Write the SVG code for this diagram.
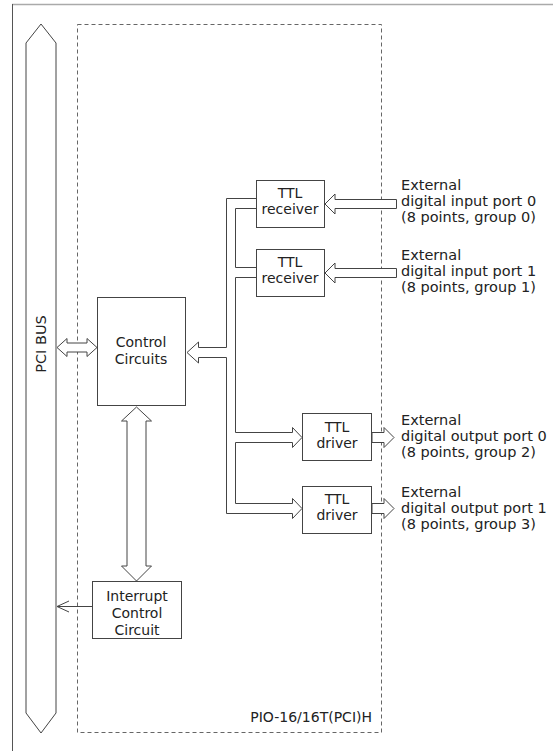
<svg xmlns="http://www.w3.org/2000/svg" width="553" height="751" viewBox="0 0 553 751">
<style>
text{font-family:"DejaVu Sans","Verdana",sans-serif;fill:#222}
.lbl{font-size:14px;text-anchor:middle}
.ext{font-size:14.5px}
.box{fill:#fff;stroke:#444;stroke-width:1}
.ln{fill:none;stroke:#444;stroke-width:1}
.ar{fill:#fff;stroke:#444;stroke-width:1;stroke-linejoin:miter}
</style>
<rect width="553" height="751" fill="#fff"/>
<g id="frame">
<line x1="12" y1="4.5" x2="553" y2="4.5" stroke="#aaa" stroke-width="1.5"/>
<line x1="12.5" y1="4" x2="12.5" y2="751" stroke="#555" stroke-width="1"/>
</g>
<g id="pci-bus">
<polygon class="ar" points="41,24 56,43 56,713 41,733 26,713 26,43"/>
<text font-size="14.5" text-anchor="middle" transform="translate(46,344) rotate(-90)">PCI BUS</text>
</g>
<g id="board">
<rect x="77.5" y="24.5" width="304" height="708" fill="none" stroke="#666" stroke-dasharray="4,3"/>
<text font-size="14" text-anchor="end" x="372" y="722">PIO-16/16T(PCI)H</text>
</g>
<g id="control">
<rect class="box" x="97.5" y="297.5" width="88" height="108"/>
<text class="lbl" x="141" y="347">Control</text>
<text class="lbl" x="141" y="364">Circuits</text>
</g>
<g id="interrupt">
<rect class="box" x="92.5" y="581.5" width="89" height="57"/>
<text class="lbl" x="137" y="601">Interrupt</text>
<text class="lbl" x="137" y="618">Control</text>
<text class="lbl" x="137" y="635">Circuit</text>
</g>
<g id="rx0">
<rect class="box" x="256.5" y="180.5" width="68" height="47"/>
<text class="lbl" x="290" y="198">TTL</text>
<text class="lbl" x="290" y="214">receiver</text>
</g>
<g id="rx1">
<rect class="box" x="256.5" y="249.5" width="68" height="47"/>
<text class="lbl" x="290" y="267">TTL</text>
<text class="lbl" x="290" y="283">receiver</text>
</g>
<g id="drv0">
<rect class="box" x="302.5" y="413.5" width="69" height="47"/>
<text class="lbl" x="337" y="432">TTL</text>
<text class="lbl" x="337" y="448">driver</text>
</g>
<g id="drv1">
<rect class="box" x="302.5" y="486.5" width="69" height="47"/>
<text class="lbl" x="337" y="504">TTL</text>
<text class="lbl" x="337" y="520">driver</text>
</g>
<g id="ext-in0" class="ext">
<text x="401" y="190">External</text>
<text x="401" y="206">digital input port 0</text>
<text x="401" y="222">(8 points, group 0)</text>
</g>
<g id="ext-in1" class="ext">
<text x="401" y="260">External</text>
<text x="401" y="276">digital input port 1</text>
<text x="401" y="292">(8 points, group 1)</text>
</g>
<g id="ext-out0" class="ext">
<text x="401" y="425">External</text>
<text x="401" y="441">digital output port 0</text>
<text x="401" y="457">(8 points, group 2)</text>
</g>
<g id="ext-out1" class="ext">
<text x="401" y="497">External</text>
<text x="401" y="513">digital output port 1</text>
<text x="401" y="529">(8 points, group 3)</text>
</g>
<g id="connectors">
<polygon class="ar" points="57,347.5 67,338.5 67,343 87,343 87,338.5 97,347.5 87,356.5 87,352 67,352 67,356.5"/>
<polygon class="ar" points="136.5,407 151.5,421 146,421 146,566 151.5,566 136.5,581 121.5,566 127,566 127,421 121.5,421"/>
<path class="ln" d="M92,606.5 H57 M69,601 L57,606.5 L69,612"/>
<path class="ar" d="M256,198.5 H226.5 V347.5 H198.5 V342 L187,352.5 L198.5,363 V357.5 H226.5 V513.5 H292.5 V518.5 L302,508.5 L292.5,498.5 V503.5 H235.5 V442.5 H292.5 V447.5 L302,437.5 L292.5,427.5 V432.5 H235.5 V277.5 H256"/>
<path class="ln" d="M256,208.5 H235.5 V267.5 H256"/>
<polygon class="ar" points="325,204 335,194 335,199.5 396.5,199.5 396.5,208.5 335,208.5 335,214"/>
<polygon class="ar" points="325,273 335,263 335,268.5 396.5,268.5 396.5,277.5 335,277.5 335,283"/>
<polygon class="ar" points="372,432.5 384,432.5 384,427.5 394,437.5 384,447.5 384,442.5 372,442.5"/>
<polygon class="ar" points="372,503.5 384,503.5 384,498.5 394,508.5 384,518.5 384,513.5 372,513.5"/>
</g>
</svg>
